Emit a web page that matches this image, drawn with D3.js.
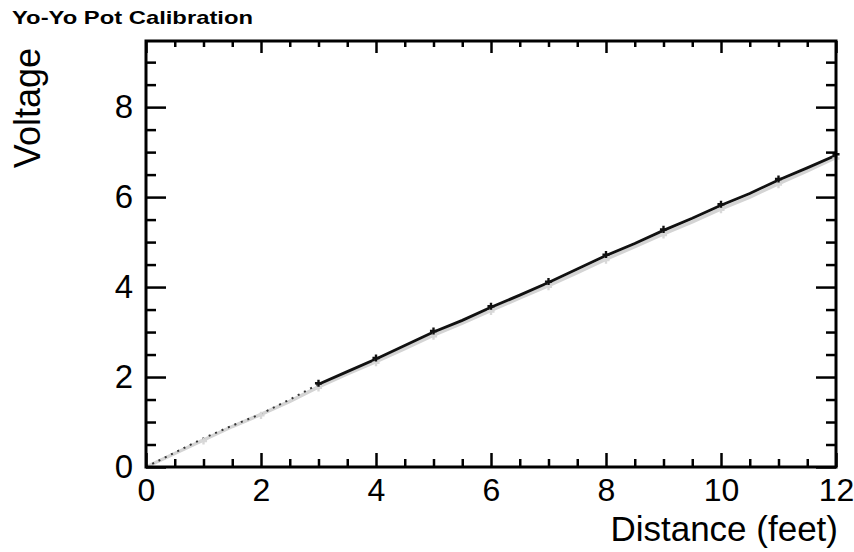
<!DOCTYPE html>
<html>
<head>
<meta charset="utf-8">
<script src="https://cdn.jsdelivr.net/npm/d3@7"></script>
<style>
  body { margin: 0; background: #fff; }
  svg { display: block; font-family: "Liberation Sans", Arial, Helvetica, sans-serif; }
</style>
</head>
<body>
<svg id="chart" width="854" height="552"></svg>
<script>
// Distance readings (feet)
const distance = [0, 0.5, 1, 1.5, 2, 2.5, 3, 3.5, 4, 4.5, 5, 5.5, 6, 6.5, 7, 7.5, 8, 8.5, 9, 9.5, 10, 10.5, 11, 11.5, 12];
// Pot voltage, first pass (dark trace)
const voltageA = [0, 0.32, 0.64, 0.92, 1.18, 1.5, 1.84, 2.12, 2.4, 2.7, 3.0, 3.26, 3.55, 3.82, 4.1, 4.4, 4.7, 4.97, 5.26, 5.53, 5.82, 6.08, 6.38, 6.65, 6.93];
// Pot voltage, second pass (light trace)
const voltageB = [0, 0.3, 0.6, 0.9, 1.17, 1.46, 1.78, 2.07, 2.34, 2.63, 2.93, 3.2, 3.48, 3.76, 4.03, 4.32, 4.62, 4.9, 5.18, 5.45, 5.74, 6.0, 6.3, 6.58, 6.88];
const xTicks = [0, 2, 4, 6, 8, 10, 12];
const yTicks = [0, 2, 4, 6, 8];

const svg = d3.select('#chart');
const plotLeft = 146, plotRight = 836, plotTop = 41, plotBottom = 467;

const x = d3.scaleLinear().domain([0, 12]).range([plotLeft, plotRight]);
const y = d3.scaleLinear().domain([0, 9.47]).range([plotBottom, plotTop]);

const xMinor = d3.range(0, 12.01, 0.5).filter(v => v % 2 !== 0);
const yMinor = d3.range(0, 9.47, 0.5).filter(v => v % 2 !== 0);

// Title
svg.append('text')
  .attr('x', 12).attr('y', 24)
  .attr('font-size', 19).attr('font-weight', 'bold')
  .attr('textLength', 241).attr('lengthAdjust', 'spacingAndGlyphs')
  .text('Yo-Yo Pot Calibration');

// Data traces
const rowsA = distance.map((d, i) => ({ x: d, v: voltageA[i] }));
const rowsB = distance.map((d, i) => ({ x: d, v: voltageB[i] }));
const line = d3.line().x(d => x(d.x)).y(d => y(d.v));

svg.append('path')
  .datum(rowsB)
  .attr('fill', 'none')
  .attr('stroke', '#d4d4d4')
  .attr('stroke-width', 3.5)
  .attr('d', line);

// dark trace is faint and broken near the origin
svg.append('path')
  .datum(rowsA.filter(d => d.x <= 3))
  .attr('fill', 'none')
  .attr('stroke', '#333')
  .attr('stroke-width', 2)
  .attr('stroke-dasharray', '2,5')
  .attr('d', line);

svg.append('path')
  .datum(rowsA.filter(d => d.x >= 3))
  .attr('fill', 'none')
  .attr('stroke', '#111')
  .attr('stroke-width', 2.8)
  .attr('d', line);

const star = d3.symbol().type(d3.symbolCross).size(28);
svg.append('g')
  .selectAll('path')
  .data(rowsB.filter(d => d.x % 1 === 0 && d.x > 0))
  .join('path')
  .attr('transform', d => `translate(${x(d.x)},${y(d.v) + 1})`)
  .attr('d', star)
  .attr('fill', '#d8d8d8');

svg.append('g')
  .selectAll('path')
  .data(rowsA.filter(d => d.x % 1 === 0 && d.x >= 3))
  .join('path')
  .attr('transform', d => `translate(${x(d.x)},${y(d.v) - 1})`)
  .attr('d', star)
  .attr('fill', '#111');

// Axes: ticks point inward
function styleAxis(g) {
  g.select('.domain').remove();
  g.selectAll('line').attr('stroke', '#000').attr('stroke-width', 2.5);
  g.selectAll('text')
    .attr('fill', '#000')
    .attr('font-size', 33)
    .attr('font-family', '"Liberation Sans", Arial, sans-serif');
}

svg.append('g')
  .attr('transform', `translate(0,${plotBottom})`)
  .call(d3.axisBottom(x).tickValues(xTicks).tickSizeInner(-14).tickSizeOuter(0).tickPadding(11))
  .call(styleAxis)
  .selectAll('text').attr('font-size', 32);

svg.append('g')
  .attr('transform', `translate(0,${plotBottom})`)
  .call(d3.axisBottom(x).tickValues(xMinor).tickSizeInner(-8).tickSizeOuter(0).tickFormat(''))
  .call(styleAxis);

svg.append('g')
  .attr('transform', `translate(0,${plotTop})`)
  .call(d3.axisTop(x).tickValues(xTicks).tickSizeInner(-12).tickSizeOuter(0).tickFormat(''))
  .call(styleAxis);

svg.append('g')
  .attr('transform', `translate(0,${plotTop})`)
  .call(d3.axisTop(x).tickValues(xMinor).tickSizeInner(-6).tickSizeOuter(0).tickFormat(''))
  .call(styleAxis);

svg.append('g')
  .attr('transform', `translate(${plotLeft},0)`)
  .call(d3.axisLeft(y).tickValues(yTicks).tickSizeInner(-20).tickSizeOuter(0).tickPadding(13))
  .call(styleAxis);

svg.append('g')
  .attr('transform', `translate(${plotLeft},0)`)
  .call(d3.axisLeft(y).tickValues(yMinor).tickSizeInner(-10).tickSizeOuter(0).tickFormat(''))
  .call(styleAxis);

svg.append('g')
  .attr('transform', `translate(${plotRight},0)`)
  .call(d3.axisRight(y).tickValues(yTicks).tickSizeInner(-20).tickSizeOuter(0).tickFormat(''))
  .call(styleAxis);

svg.append('g')
  .attr('transform', `translate(${plotRight},0)`)
  .call(d3.axisRight(y).tickValues(yMinor).tickSizeInner(-10).tickSizeOuter(0).tickFormat(''))
  .call(styleAxis);

// Frame
svg.append('rect')
  .attr('x', plotLeft).attr('y', plotTop)
  .attr('width', plotRight - plotLeft).attr('height', plotBottom - plotTop)
  .attr('fill', 'none')
  .attr('stroke', '#000')
  .attr('stroke-width', 3);

// Axis titles
svg.append('text')
  .attr('x', 838).attr('y', 541)
  .attr('text-anchor', 'end')
  .attr('font-size', 35)
  .text('Distance (feet)');

svg.append('text')
  .attr('transform', 'translate(40,48) rotate(-90)')
  .attr('text-anchor', 'end')
  .attr('font-size', 36)
  .text('Voltage');
</script>
</body>
</html>
